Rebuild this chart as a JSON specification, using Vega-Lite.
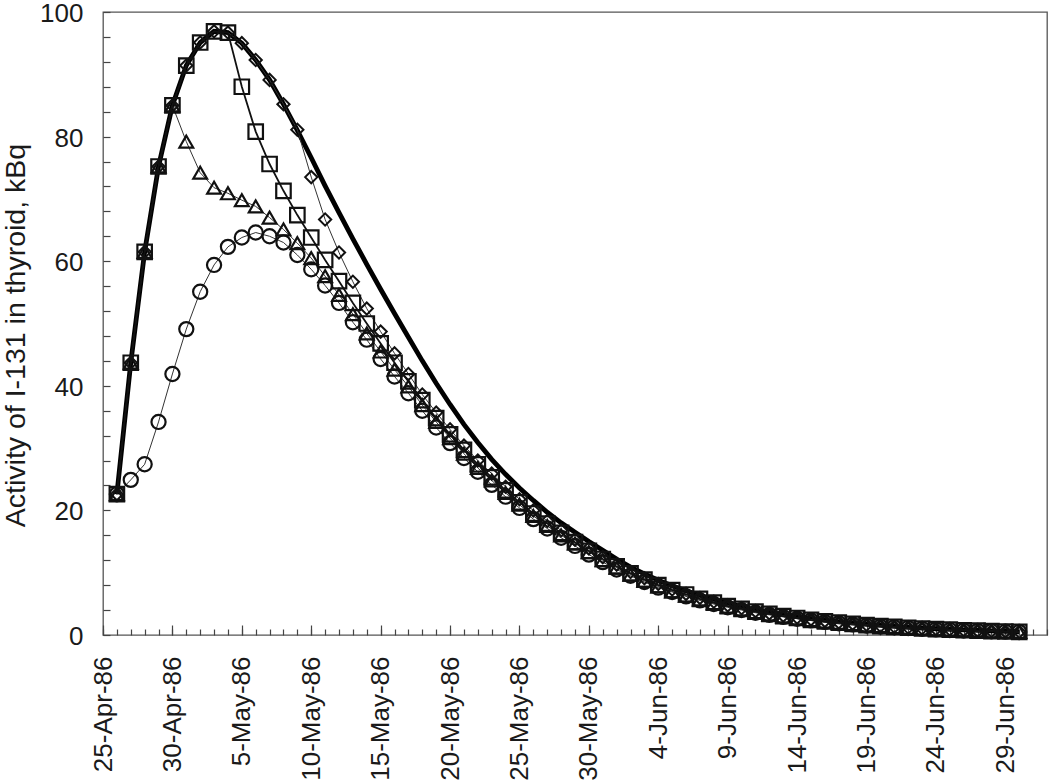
{
"$schema": "https://vega.github.io/schema/vega-lite/v6.json",
"width": 944, "height": 623,
"autosize": {"type": "none"},
"padding": {"left": 103, "top": 12, "right": 3, "bottom": 149},
"background": "white",
"config": {"view": {"stroke": "#555", "strokeWidth": 1.3}, "font": "Liberation Sans", "axis": {"grid": false}},
"datasets": {
"model": [
{"d":"1986/04/26","v":22.6},{"d":"1986/04/27","v":43.7},{"d":"1986/04/28","v":61.5},{"d":"1986/04/29","v":75.2},{"d":"1986/04/30","v":85.0},
{"d":"1986/05/01","v":91.4},{"d":"1986/05/02","v":95.1},{"d":"1986/05/03","v":96.9},{"d":"1986/05/04","v":96.7},{"d":"1986/05/05","v":95.0},
{"d":"1986/05/06","v":92.3},{"d":"1986/05/07","v":89.1},{"d":"1986/05/08","v":85.2},{"d":"1986/05/09","v":81.0},{"d":"1986/05/10","v":76.6},
{"d":"1986/05/11","v":72.1},{"d":"1986/05/12","v":67.8},{"d":"1986/05/13","v":63.6},{"d":"1986/05/14","v":59.5},{"d":"1986/05/15","v":55.5},
{"d":"1986/05/16","v":51.6},{"d":"1986/05/17","v":47.8},{"d":"1986/05/18","v":44.0},{"d":"1986/05/19","v":40.4},{"d":"1986/05/20","v":37.0},
{"d":"1986/05/21","v":33.8},{"d":"1986/05/22","v":30.9},{"d":"1986/05/23","v":28.2},{"d":"1986/05/24","v":25.8},{"d":"1986/05/25","v":23.6},
{"d":"1986/05/26","v":21.6},{"d":"1986/05/27","v":19.7},{"d":"1986/05/28","v":18.0},{"d":"1986/05/29","v":16.5},{"d":"1986/05/30","v":15.0},
{"d":"1986/05/31","v":13.6},{"d":"1986/06/01","v":12.2},{"d":"1986/06/02","v":10.9},{"d":"1986/06/03","v":9.8},{"d":"1986/06/04","v":8.8},
{"d":"1986/06/05","v":7.9},{"d":"1986/06/06","v":7.1},{"d":"1986/06/07","v":6.35},{"d":"1986/06/08","v":5.7},{"d":"1986/06/09","v":5.1},
{"d":"1986/06/10","v":4.55},{"d":"1986/06/11","v":4.05},{"d":"1986/06/12","v":3.65},{"d":"1986/06/13","v":3.27},{"d":"1986/06/14","v":2.94},
{"d":"1986/06/15","v":2.63},{"d":"1986/06/16","v":2.36},{"d":"1986/06/17","v":2.12},{"d":"1986/06/18","v":1.9},{"d":"1986/06/19","v":1.71},
{"d":"1986/06/20","v":1.54},{"d":"1986/06/21","v":1.38},{"d":"1986/06/22","v":1.24},{"d":"1986/06/23","v":1.11},{"d":"1986/06/24","v":1.0},
{"d":"1986/06/25","v":0.9},{"d":"1986/06/26","v":0.81},{"d":"1986/06/27","v":0.73},{"d":"1986/06/28","v":0.66},{"d":"1986/06/29","v":0.59},
{"d":"1986/06/30","v":0.54}],
"squares": [
{"d":"1986/04/26","v":22.6},{"d":"1986/04/27","v":43.7},{"d":"1986/04/28","v":61.5},{"d":"1986/04/29","v":75.2},{"d":"1986/04/30","v":85.0},
{"d":"1986/05/01","v":91.4},{"d":"1986/05/02","v":95.1},{"d":"1986/05/03","v":96.9},{"d":"1986/05/04","v":96.7},{"d":"1986/05/05","v":88.0},
{"d":"1986/05/06","v":80.8},{"d":"1986/05/07","v":75.6},{"d":"1986/05/08","v":71.3},{"d":"1986/05/09","v":67.4},{"d":"1986/05/10","v":63.8},
{"d":"1986/05/11","v":60.2},{"d":"1986/05/12","v":56.8},{"d":"1986/05/13","v":53.3},{"d":"1986/05/14","v":50.0},{"d":"1986/05/15","v":46.8},
{"d":"1986/05/16","v":43.7},{"d":"1986/05/17","v":40.7},{"d":"1986/05/18","v":37.7},{"d":"1986/05/19","v":34.8},{"d":"1986/05/20","v":32.2},
{"d":"1986/05/21","v":29.7},{"d":"1986/05/22","v":27.4},{"d":"1986/05/23","v":25.3},{"d":"1986/05/24","v":23.2},{"d":"1986/05/25","v":21.3},
{"d":"1986/05/26","v":19.5},{"d":"1986/05/27","v":17.9},{"d":"1986/05/28","v":16.4},{"d":"1986/05/29","v":14.9},{"d":"1986/05/30","v":13.5},
{"d":"1986/05/31","v":12.2},{"d":"1986/06/01","v":11.0},{"d":"1986/06/02","v":9.9},{"d":"1986/06/03","v":8.9},{"d":"1986/06/04","v":8.0},
{"d":"1986/06/05","v":7.2},{"d":"1986/06/06","v":6.5},{"d":"1986/06/07","v":5.8},{"d":"1986/06/08","v":5.2},{"d":"1986/06/09","v":4.65},
{"d":"1986/06/10","v":4.19},{"d":"1986/06/11","v":3.74},{"d":"1986/06/12","v":3.38},{"d":"1986/06/13","v":3.03},{"d":"1986/06/14","v":2.73},
{"d":"1986/06/15","v":2.44},{"d":"1986/06/16","v":2.2},{"d":"1986/06/17","v":1.98},{"d":"1986/06/18","v":1.78},{"d":"1986/06/19","v":1.6},
{"d":"1986/06/20","v":1.43},{"d":"1986/06/21","v":1.29},{"d":"1986/06/22","v":1.16},{"d":"1986/06/23","v":1.04},{"d":"1986/06/24","v":0.94},
{"d":"1986/06/25","v":0.85},{"d":"1986/06/26","v":0.76},{"d":"1986/06/27","v":0.69},{"d":"1986/06/28","v":0.62},{"d":"1986/06/29","v":0.56},
{"d":"1986/06/30","v":0.5}],
"diamonds": [
{"d":"1986/04/26","v":22.6},{"d":"1986/04/27","v":43.7},{"d":"1986/04/28","v":61.5},{"d":"1986/04/29","v":75.2},{"d":"1986/04/30","v":85.0},
{"d":"1986/05/01","v":91.4},{"d":"1986/05/02","v":95.1},{"d":"1986/05/03","v":96.9},{"d":"1986/05/04","v":96.7},{"d":"1986/05/05","v":95.0},
{"d":"1986/05/06","v":92.3},{"d":"1986/05/07","v":89.1},{"d":"1986/05/08","v":85.2},{"d":"1986/05/09","v":81.1},{"d":"1986/05/10","v":73.5},
{"d":"1986/05/11","v":66.7},{"d":"1986/05/12","v":61.4},{"d":"1986/05/13","v":56.7},{"d":"1986/05/14","v":52.4},{"d":"1986/05/15","v":48.7},
{"d":"1986/05/16","v":45.2},{"d":"1986/05/17","v":41.9},{"d":"1986/05/18","v":38.6},{"d":"1986/05/19","v":35.7},{"d":"1986/05/20","v":33.0},
{"d":"1986/05/21","v":30.4},{"d":"1986/05/22","v":28.0},{"d":"1986/05/23","v":25.9},{"d":"1986/05/24","v":23.8},{"d":"1986/05/25","v":21.8},
{"d":"1986/05/26","v":20.0},{"d":"1986/05/27","v":18.3},{"d":"1986/05/28","v":16.8},{"d":"1986/05/29","v":15.3},{"d":"1986/05/30","v":13.9},
{"d":"1986/05/31","v":12.5},{"d":"1986/06/01","v":11.3},{"d":"1986/06/02","v":10.1},{"d":"1986/06/03","v":9.1},{"d":"1986/06/04","v":8.2},
{"d":"1986/06/05","v":7.3},{"d":"1986/06/06","v":6.6},{"d":"1986/06/07","v":5.95},{"d":"1986/06/08","v":5.33},{"d":"1986/06/09","v":4.76},
{"d":"1986/06/10","v":4.3},{"d":"1986/06/11","v":3.83},{"d":"1986/06/12","v":3.47},{"d":"1986/06/13","v":3.1},{"d":"1986/06/14","v":2.79},
{"d":"1986/06/15","v":2.5},{"d":"1986/06/16","v":2.26},{"d":"1986/06/17","v":2.03},{"d":"1986/06/18","v":1.82},{"d":"1986/06/19","v":1.64},
{"d":"1986/06/20","v":1.47},{"d":"1986/06/21","v":1.32},{"d":"1986/06/22","v":1.19},{"d":"1986/06/23","v":1.07},{"d":"1986/06/24","v":0.96},
{"d":"1986/06/25","v":0.87},{"d":"1986/06/26","v":0.78},{"d":"1986/06/27","v":0.7},{"d":"1986/06/28","v":0.63},{"d":"1986/06/29","v":0.57},
{"d":"1986/06/30","v":0.52}],
"triangles": [
{"d":"1986/04/26","v":22.6},{"d":"1986/04/27","v":43.7},{"d":"1986/04/28","v":61.5},{"d":"1986/04/29","v":75.2},{"d":"1986/04/30","v":85.0},
{"d":"1986/05/01","v":79.2},{"d":"1986/05/02","v":74.2},{"d":"1986/05/03","v":71.8},{"d":"1986/05/04","v":70.9},{"d":"1986/05/05","v":69.8},
{"d":"1986/05/06","v":68.8},{"d":"1986/05/07","v":67.0},{"d":"1986/05/08","v":65.1},{"d":"1986/05/09","v":62.9},{"d":"1986/05/10","v":60.5},
{"d":"1986/05/11","v":57.6},{"d":"1986/05/12","v":54.6},{"d":"1986/05/13","v":51.5},{"d":"1986/05/14","v":48.4},{"d":"1986/05/15","v":45.5},
{"d":"1986/05/16","v":42.6},{"d":"1986/05/17","v":39.9},{"d":"1986/05/18","v":36.9},{"d":"1986/05/19","v":34.2},{"d":"1986/05/20","v":31.6},
{"d":"1986/05/21","v":29.1},{"d":"1986/05/22","v":26.8},{"d":"1986/05/23","v":24.8},{"d":"1986/05/24","v":22.8},{"d":"1986/05/25","v":20.9},
{"d":"1986/05/26","v":19.1},{"d":"1986/05/27","v":17.5},{"d":"1986/05/28","v":16.0},{"d":"1986/05/29","v":14.7},{"d":"1986/05/30","v":13.3},
{"d":"1986/05/31","v":12.0},{"d":"1986/06/01","v":10.8},{"d":"1986/06/02","v":9.7},{"d":"1986/06/03","v":8.7},{"d":"1986/06/04","v":7.8},
{"d":"1986/06/05","v":7.0},{"d":"1986/06/06","v":6.3},{"d":"1986/06/07","v":5.7},{"d":"1986/06/08","v":5.1},{"d":"1986/06/09","v":4.55},
{"d":"1986/06/10","v":4.11},{"d":"1986/06/11","v":3.66},{"d":"1986/06/12","v":3.32},{"d":"1986/06/13","v":2.97},{"d":"1986/06/14","v":2.67},
{"d":"1986/06/15","v":2.4},{"d":"1986/06/16","v":2.16},{"d":"1986/06/17","v":1.94},{"d":"1986/06/18","v":1.74},{"d":"1986/06/19","v":1.56},
{"d":"1986/06/20","v":1.41},{"d":"1986/06/21","v":1.27},{"d":"1986/06/22","v":1.14},{"d":"1986/06/23","v":1.02},{"d":"1986/06/24","v":0.92},
{"d":"1986/06/25","v":0.83},{"d":"1986/06/26","v":0.74},{"d":"1986/06/27","v":0.67},{"d":"1986/06/28","v":0.6},{"d":"1986/06/29","v":0.54},
{"d":"1986/06/30","v":0.5}],
"circles": [
{"d":"1986/04/26","v":22.6},{"d":"1986/04/27","v":24.9},{"d":"1986/04/28","v":27.4},{"d":"1986/04/29","v":34.2},{"d":"1986/04/30","v":41.9},
{"d":"1986/05/01","v":49.1},{"d":"1986/05/02","v":55.1},{"d":"1986/05/03","v":59.4},{"d":"1986/05/04","v":62.3},{"d":"1986/05/05","v":63.8},
{"d":"1986/05/06","v":64.6},{"d":"1986/05/07","v":64.0},{"d":"1986/05/08","v":63.0},{"d":"1986/05/09","v":61.0},{"d":"1986/05/10","v":58.7},
{"d":"1986/05/11","v":56.1},{"d":"1986/05/12","v":53.3},{"d":"1986/05/13","v":50.2},{"d":"1986/05/14","v":47.4},{"d":"1986/05/15","v":44.3},
{"d":"1986/05/16","v":41.5},{"d":"1986/05/17","v":38.8},{"d":"1986/05/18","v":36.0},{"d":"1986/05/19","v":33.3},{"d":"1986/05/20","v":30.8},
{"d":"1986/05/21","v":28.4},{"d":"1986/05/22","v":26.2},{"d":"1986/05/23","v":24.1},{"d":"1986/05/24","v":22.2},{"d":"1986/05/25","v":20.4},
{"d":"1986/05/26","v":18.6},{"d":"1986/05/27","v":17.1},{"d":"1986/05/28","v":15.6},{"d":"1986/05/29","v":14.3},{"d":"1986/05/30","v":12.9},
{"d":"1986/05/31","v":11.7},{"d":"1986/06/01","v":10.5},{"d":"1986/06/02","v":9.5},{"d":"1986/06/03","v":8.5},{"d":"1986/06/04","v":7.6},
{"d":"1986/06/05","v":6.9},{"d":"1986/06/06","v":6.2},{"d":"1986/06/07","v":5.55},{"d":"1986/06/08","v":4.97},{"d":"1986/06/09","v":4.44},
{"d":"1986/06/10","v":4.0},{"d":"1986/06/11","v":3.57},{"d":"1986/06/12","v":3.23},{"d":"1986/06/13","v":2.9},{"d":"1986/06/14","v":2.61},
{"d":"1986/06/15","v":2.34},{"d":"1986/06/16","v":2.1},{"d":"1986/06/17","v":1.89},{"d":"1986/06/18","v":1.7},{"d":"1986/06/19","v":1.52},
{"d":"1986/06/20","v":1.37},{"d":"1986/06/21","v":1.24},{"d":"1986/06/22","v":1.11},{"d":"1986/06/23","v":0.99},{"d":"1986/06/24","v":0.9},
{"d":"1986/06/25","v":0.81},{"d":"1986/06/26","v":0.72},{"d":"1986/06/27","v":0.66},{"d":"1986/06/28","v":0.59},{"d":"1986/06/29","v":0.53},
{"d":"1986/06/30","v":0.48}]
},
"encoding": {
  "x": {"field": "d", "type": "temporal", "scale": {"domain": [{"year": 1986, "month": "Apr", "date": 25}, {"year": 1986, "month": "Jul", "date": 2}]}},
  "y": {"field": "v", "type": "quantitative", "scale": {"domain": [0, 100]}}
},
"layer": [
  {"data": {"name": "model"}, "mark": {"type": "line", "color": "#000", "strokeWidth": 4.8},
   "encoding": {
     "x": {"field": "d", "type": "temporal", "axis": {"orient": "bottom", "title": null, "ticks": false, "domain": false, "labelPadding": 21, "labelAngle": 270, "labelFontSize": 26, "labelColor": "#1a1a1a", "format": "%-d-%b-%y", "labelOverlap": false, "labelFlush": false,
       "values": [{"year":1986,"month":"Apr","date":25},{"year":1986,"month":"Apr","date":30},{"year":1986,"month":"May","date":5},{"year":1986,"month":"May","date":10},{"year":1986,"month":"May","date":15},{"year":1986,"month":"May","date":20},{"year":1986,"month":"May","date":25},{"year":1986,"month":"May","date":30},{"year":1986,"month":"Jun","date":4},{"year":1986,"month":"Jun","date":9},{"year":1986,"month":"Jun","date":14},{"year":1986,"month":"Jun","date":19},{"year":1986,"month":"Jun","date":24},{"year":1986,"month":"Jun","date":29}]}},
     "y": {"field": "v", "type": "quantitative", "axis": {"orient": "left", "values": [0, 20, 40, 60, 80, 100], "ticks": false, "domain": false, "labelPadding": 20, "labelOffset": 1.5, "labelFontSize": 26, "labelColor": "#1a1a1a", "title": "Activity of I-131 in thyroid, kBq", "titleFontSize": 28.5, "titleFontWeight": "normal", "titleColor": "#1a1a1a", "titlePadding": 9, "titleY": 323}}
   }},
  {"data": {"name": "circles"}, "mark": {"type": "line", "color": "#333", "strokeWidth": 1},
   "encoding": {
     "x": {"field": "d", "type": "temporal", "axis": {"orient": "bottom", "title": null, "labels": false, "domain": false, "tickSize": 6, "offset": -6, "tickColor": "#444", "tickWidth": 1.2, "tickCount": {"interval": "day", "step": 1}}},
     "y": {"field": "v", "type": "quantitative", "axis": {"orient": "left", "title": null, "labels": false, "domain": false, "tickSize": 7, "offset": -7, "tickColor": "#444", "tickWidth": 1.2, "values": [0,4,8,12,16,20,24,28,32,36,40,44,48,52,56,60,64,68,72,76,80,84,88,92,96,100]}}
   }},
  {"data": {"name": "triangles"}, "mark": {"type": "line", "color": "#333", "strokeWidth": 1},
   "encoding": {
     "x": {"field": "d", "type": "temporal", "axis": {"orient": "bottom", "title": null, "labels": false, "domain": false, "tickSize": 10, "offset": -10, "tickColor": "#444", "tickWidth": 1.2,
       "values": [{"year":1986,"month":"Apr","date":25},{"year":1986,"month":"Apr","date":30},{"year":1986,"month":"May","date":5},{"year":1986,"month":"May","date":10},{"year":1986,"month":"May","date":15},{"year":1986,"month":"May","date":20},{"year":1986,"month":"May","date":25},{"year":1986,"month":"May","date":30},{"year":1986,"month":"Jun","date":4},{"year":1986,"month":"Jun","date":9},{"year":1986,"month":"Jun","date":14},{"year":1986,"month":"Jun","date":19},{"year":1986,"month":"Jun","date":24},{"year":1986,"month":"Jun","date":29}]}},
     "y": {"field": "v", "type": "quantitative", "axis": null}
   }},
  {"data": {"name": "diamonds"}, "mark": {"type": "line", "color": "#333", "strokeWidth": 1},
   "encoding": {"x": {"field": "d", "type": "temporal", "axis": null}, "y": {"field": "v", "type": "quantitative", "axis": null}}},
  {"data": {"name": "squares"}, "mark": {"type": "line", "color": "#111", "strokeWidth": 1.8},
   "encoding": {"x": {"field": "d", "type": "temporal", "axis": null}, "y": {"field": "v", "type": "quantitative", "axis": null}}},
  {"data": {"name": "circles"}, "mark": {"type": "point", "shape": "circle", "filled": false, "size": 200, "strokeWidth": 2.2, "color": "#111", "opacity": 1},
   "encoding": {"x": {"field": "d", "type": "temporal", "axis": null}, "y": {"field": "v", "type": "quantitative", "axis": null}}},
  {"data": {"name": "triangles"}, "mark": {"type": "point", "shape": "triangle-up", "filled": false, "size": 190, "strokeWidth": 2.2, "color": "#111", "opacity": 1},
   "encoding": {"x": {"field": "d", "type": "temporal", "axis": null}, "y": {"field": "v", "type": "quantitative", "axis": null}}},
  {"data": {"name": "diamonds"}, "mark": {"type": "point", "shape": "diamond", "filled": false, "size": 150, "strokeWidth": 2, "color": "#111", "opacity": 1},
   "encoding": {"x": {"field": "d", "type": "temporal", "axis": null}, "y": {"field": "v", "type": "quantitative", "axis": null}}},
  {"data": {"name": "squares"}, "mark": {"type": "point", "shape": "square", "filled": false, "size": 210, "strokeWidth": 2.2, "color": "#111", "opacity": 1},
   "encoding": {"x": {"field": "d", "type": "temporal", "axis": null}, "y": {"field": "v", "type": "quantitative", "axis": null}}}
],
"resolve": {"axis": {"x": "independent", "y": "independent"}}
}
